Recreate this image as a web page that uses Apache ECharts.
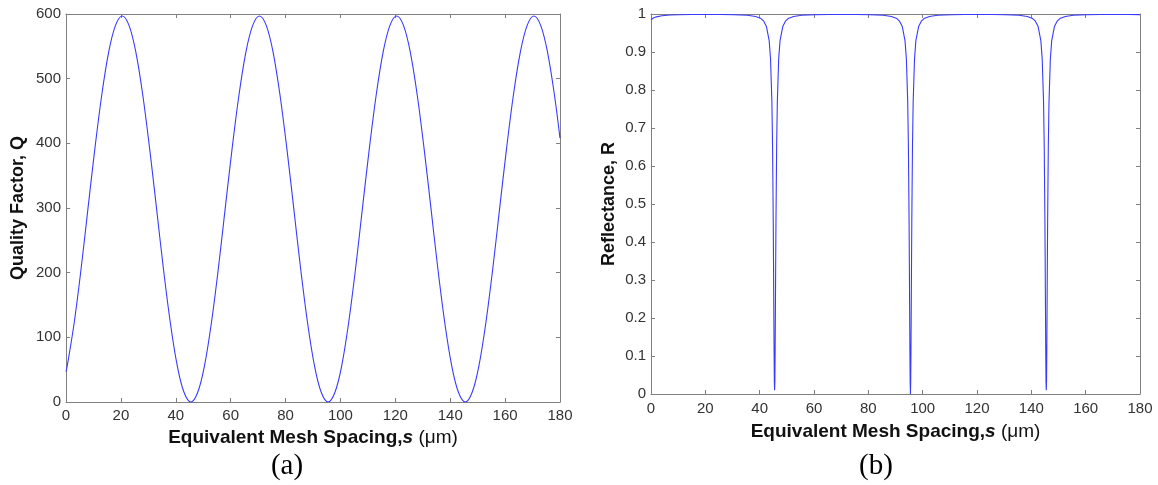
<!DOCTYPE html>
<html>
<head>
<meta charset="utf-8">
<script src="https://cdn.jsdelivr.net/npm/echarts@6/dist/echarts.min.js"></script>
<style>html,body{margin:0;padding:0;background:#fff;}#c{width:1158px;height:485px;}</style>
</head>
<body>
<div id="c"></div>
<script>
// Panel (a): Quality factor Q vs equivalent mesh spacing s (um)
const qX = [0,0.5,3,5.5,8,10.5,13,15.5,18,20.5,23,25.5,28,30.5,33,35.5,38,40.5,43,45.5,48,
  50.5,53,55.5,58,60.5,63,65.5,68,70.5,73,75.5,78,80.5,83,85.5,88,90.5,93,95.5,98,
  100.5,103,105.5,108,110.5,113,115.5,118,120.5,123,125.5,128,130.5,133,135.5,138,140.5,143,145.5,148,
  150.5,153,155.5,158,160.5,163,165.5,168,170.5,173,175.5,178,180];
const qY = [47,57,123,206,299,391,474,540,582,597,582,540,474,391,299,206,123,57,15,0,15,
  57,123,206,299,391,474,540,582,597,582,540,474,391,299,206,123,57,15,0,15,
  57,123,206,299,391,474,540,582,597,582,540,474,391,299,206,123,57,15,0,15,
  57,123,206,299,391,474,540,582,597,582,540,474,408];

// Panel (b): Reflectance R vs equivalent mesh spacing s (um)
const rX = [0,1,2,4,7,10,15,20.5,25.5,30.5,35.5,38.5,
  40.5,41.5,42.5,43.5,44,44.5,44.75,45,45.1,45.2,45.3,45.4,45.5,45.6,45.7,45.8,45.9,46,46.25,46.5,47,47.5,48.5,49.5,50.5,
  52.5,55.5,60.5,65.5,70.5,75.5,80.5,85.5,88.5,
  90.5,91.5,92.5,93.5,94,94.5,94.75,95,95.1,95.2,95.3,95.4,95.5,95.6,95.7,95.8,95.9,96,96.25,96.5,97,97.5,98.5,99.5,100.5,
  102.5,105.5,110.5,115.5,120.5,125.5,130.5,135.5,138.5,
  140.5,141.5,142.5,143.5,144,144.5,144.75,145,145.1,145.2,145.3,145.4,145.5,145.6,145.7,145.8,145.9,146,146.25,146.5,147,147.5,148.5,149.5,150.5,
  152.5,155.5,160.5,165.5,170.5,175.5,180];
const rY = [0.985,0.990,0.9925,0.9954,0.9973,0.9980,0.9987,0.9988,0.9987,0.9982,0.9966,0.9935,
  0.988,0.981,0.967,0.930,0.882,0.768,0.651,0.453,0.347,0.230,0.117,0.032,0.010,0.032,0.117,0.230,0.347,0.453,0.651,0.768,0.882,0.930,0.967,0.981,0.988,
  0.9935,0.9966,0.9982,0.9987,0.9988,0.9987,0.9982,0.9966,0.9935,
  0.988,0.981,0.967,0.930,0.882,0.768,0.651,0.453,0.347,0.230,0.117,0.032,0.000,0.032,0.117,0.230,0.347,0.453,0.651,0.768,0.882,0.930,0.967,0.981,0.988,
  0.9935,0.9966,0.9982,0.9987,0.9988,0.9987,0.9982,0.9966,0.9935,
  0.988,0.981,0.967,0.930,0.882,0.768,0.651,0.453,0.347,0.230,0.117,0.032,0.010,0.032,0.117,0.230,0.347,0.453,0.651,0.768,0.882,0.930,0.967,0.981,0.988,
  0.9935,0.9966,0.9982,0.9987,0.9988,0.9987,0.9983];

const xTitle = '{b|Equivalent Mesh Spacing,}{i|s}{n| (\u03bcm)}';
const yTitleA = 'Quality Factor, Q';
const yTitleB = 'Reflectance, R';
const panelLabels = ['(a)', '(b)'];

const FONT = '"Liberation Sans", Arial, Helvetica, sans-serif';
const AXC = '#808080';
const LABC = '#333333';
const LINEC = '#3a3aff';

const zip = (a, b) => a.map((v, i) => [v, b[i]]);

const titleRich = {
  b: {fontFamily: FONT, fontWeight: 'bold', fontSize: 19, color: '#111'},
  i: {fontFamily: FONT, fontWeight: 'bold', fontStyle: 'italic', fontSize: 19, color: '#111'},
  n: {fontFamily: FONT, fontWeight: 'normal', fontSize: 19, color: '#111'}
};

function mainX(gi, gap, margin) {
  return {
    type: 'value', gridIndex: gi, position: 'bottom', min: 0, max: 180, interval: 20,
    axisLine: {show: true, onZero: false, lineStyle: {color: AXC, width: 1}},
    axisTick: {show: true, inside: true, length: 4, lineStyle: {color: AXC}},
    axisLabel: {fontFamily: FONT, fontSize: 15, color: LABC, margin: margin},
    splitLine: {show: false},
    name: xTitle, nameLocation: 'middle', nameGap: gap,
    nameTextStyle: {rich: titleRich}
  };
}
function topX(gi) {
  return {
    type: 'value', gridIndex: gi, position: 'top', min: 0, max: 180, interval: 20,
    axisLine: {show: true, onZero: false, lineStyle: {color: AXC, width: 1}},
    axisTick: {show: true, inside: true, length: 4, lineStyle: {color: AXC}},
    axisLabel: {show: false}, splitLine: {show: false}
  };
}
function mainY(gi, max, interval, name, gap, fmt) {
  return {
    type: 'value', gridIndex: gi, position: 'left', min: 0, max: max, interval: interval,
    axisLine: {show: true, onZero: false, lineStyle: {color: AXC, width: 1}},
    axisTick: {show: true, inside: true, length: 4, lineStyle: {color: AXC}},
    axisLabel: {fontFamily: FONT, fontSize: 15, color: LABC, margin: 5, formatter: fmt},
    splitLine: {show: false},
    name: name, nameLocation: 'middle', nameGap: gap, nameRotate: 90,
    nameTextStyle: {fontFamily: FONT, fontWeight: 'bold', fontSize: 18, color: '#111'}
  };
}
function rightY(gi, max, interval) {
  return {
    type: 'value', gridIndex: gi, position: 'right', min: 0, max: max, interval: interval,
    axisLine: {show: true, onZero: false, lineStyle: {color: AXC, width: 1}},
    axisTick: {show: true, inside: true, length: 4, lineStyle: {color: AXC}},
    axisLabel: {show: false}, splitLine: {show: false}
  };
}

const chart = echarts.init(document.getElementById('c'), null, {renderer: 'canvas'});
chart.setOption({
  animation: false,
  backgroundColor: '#ffffff',
  grid: [
    {left: 66, top: 14, width: 494, height: 388, containLabel: false},
    {left: 651, top: 14, width: 489, height: 380, containLabel: false}
  ],
  xAxis: [mainX(0, 24, 6), mainX(1, 28, 7), topX(0), topX(1)],
  yAxis: [
    mainY(0, 600, 100, yTitleA, 39, v => String(v)),
    mainY(1, 1, 0.1, yTitleB, 33, v => String(+v.toFixed(1))),
    rightY(0, 600, 100),
    rightY(1, 1, 0.1)
  ],
  series: [
    {type: 'line', xAxisIndex: 0, yAxisIndex: 0, data: zip(qX, qY), smooth: 0.35,
     showSymbol: false, clip: true, lineStyle: {color: LINEC, width: 1.1}},
    {type: 'line', xAxisIndex: 1, yAxisIndex: 1, data: zip(rX, rY), smooth: false,
     showSymbol: false, clip: true, lineStyle: {color: LINEC, width: 1.1}}
  ],
  graphic: [
    {type: 'text', x: 287, y: 466, style: {text: panelLabels[0], align: 'center', verticalAlign: 'middle', font: '29px "Liberation Serif", "Times New Roman", serif', fill: '#000'}},
    {type: 'text', x: 876, y: 466, style: {text: panelLabels[1], align: 'center', verticalAlign: 'middle', font: '29px "Liberation Serif", "Times New Roman", serif', fill: '#000'}}
  ]
});
</script>
</body>
</html>
